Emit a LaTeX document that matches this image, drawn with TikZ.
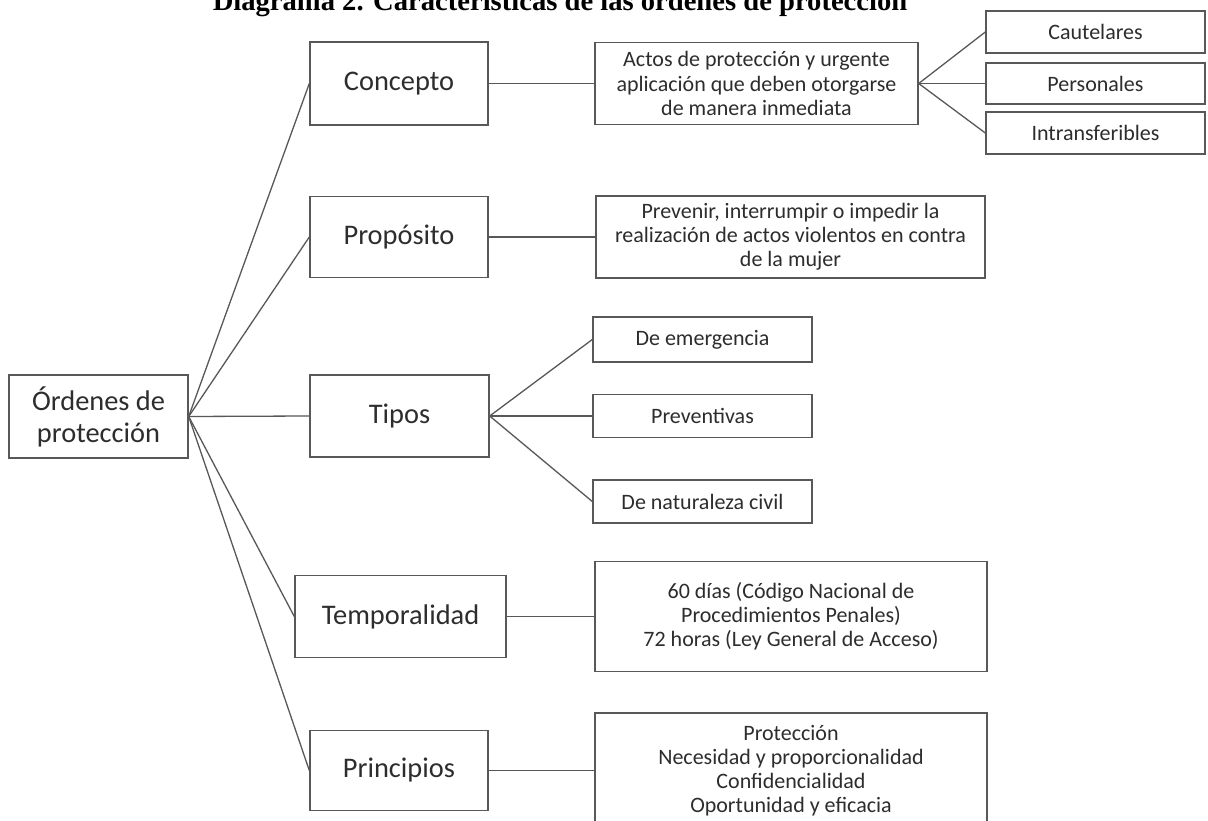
\documentclass[tikz,border=0pt]{standalone}
\usepackage{fontspec}
\setmainfont{Carlito}
\newfontfamily\titlefont{Liberation Serif}
\definecolor{linegray}{RGB}{88,88,88}
\definecolor{textgray}{RGB}{45,45,45}
\tikzset{
  box/.style={draw=linegray, line width=1.4pt, text=textgray, align=center, inner sep=1pt},
  bigbox/.style={box, font=\fontsize{28.4}{32}\selectfont},
  smallbox/.style={box, font=\fontsize{22}{24.2}\selectfont},
  link/.style={draw=linegray, line width=1.3pt},
}
\begin{document}
\begin{tikzpicture}[x=1pt,y=-1pt]
\useasboundingbox (0,0) rectangle (1208,821);
\clip (0,0) rectangle (1208,821);
\fill[white] (0,0) rectangle (1208,821);

% Title
\node[anchor=base, text=black, font=\titlefont\bfseries\fontsize{28.6}{32}\selectfont] (titulo) at (560,11) {Diagrama 2. Características de las órdenes de protección};

% Root
\node[bigbox, minimum width=179pt, minimum height=83pt] (raiz) at (98.5,416.5) {Órdenes de\\protección};

% Main branches
\node[bigbox, minimum width=178pt, minimum height=83pt] (concepto) at (399,83.5) {Concepto};
\node[bigbox, minimum width=178pt, minimum height=81pt] (proposito) at (399,237) {Propósito};
\node[bigbox, minimum width=179pt, minimum height=82pt] (tipos) at (399.5,416) {Tipos};
\node[bigbox, minimum width=211pt, minimum height=82pt] (temporalidad) at (400.5,616.5) {Temporalidad};
\node[bigbox, minimum width=178pt, minimum height=80pt] (principios) at (399,770.5) {Principios};

% Concepto
\node[smallbox, minimum width=323pt, minimum height=82pt] (concdesc) at (756.5,83.5) {Actos de protección y urgente\\aplicación que deben otorgarse\\de manera inmediata};
\node[smallbox, minimum width=219pt, minimum height=42pt] (cautelares) at (1095.5,32) {Cautelares};
\node[smallbox, minimum width=219pt, minimum height=41pt] (personales) at (1095.5,83.5) {Personales};
\node[smallbox, minimum width=219pt, minimum height=42pt] (intransferibles) at (1095.5,133) {Intransferibles};

% Propósito
\node[smallbox, minimum width=389pt, minimum height=82pt] (propdesc) at (790.5,237) {Prevenir, interrumpir o impedir la\\realización de actos violentos en contra\\de la mujer};

% Tipos
\node[smallbox, minimum width=219pt, minimum height=45pt] (emergencia) at (702.5,339.5) {De emergencia};
\node[smallbox, minimum width=219pt, minimum height=43pt] (preventivas) at (702.5,416) {Preventivas};
\node[smallbox, minimum width=219pt, minimum height=43pt] (civil) at (702.5,501.5) {De naturaleza civil};

% Temporalidad
\node[smallbox, minimum width=392pt, minimum height=110pt] (tempdesc) at (791,616.5) {60 días (Código Nacional de\\Procedimientos Penales)\\72 horas (Ley General de Acceso)};

% Principios
\node[smallbox, minimum width=392pt, minimum height=115pt] (princdesc) at (791,770.5) {Protección\\Necesidad y proporcionalidad\\Confidencialidad\\Oportunidad y eficacia};

% Connectors
\foreach \rama in {concepto,proposito,tipos,temporalidad,principios}
  \draw[link] (raiz.east) -- (\rama.west);
\draw[link] (concepto.east) -- (concdesc.west);
\foreach \hoja in {cautelares,personales,intransferibles}
  \draw[link] (concdesc.east) -- (\hoja.west);
\draw[link] (proposito.east) -- (propdesc.west);
\foreach \hoja in {emergencia,preventivas,civil}
  \draw[link] (tipos.east) -- (\hoja.west);
\draw[link] (temporalidad.east) -- (tempdesc.west);
\draw[link] (principios.east) -- (princdesc.west);
\end{tikzpicture}
\end{document}
